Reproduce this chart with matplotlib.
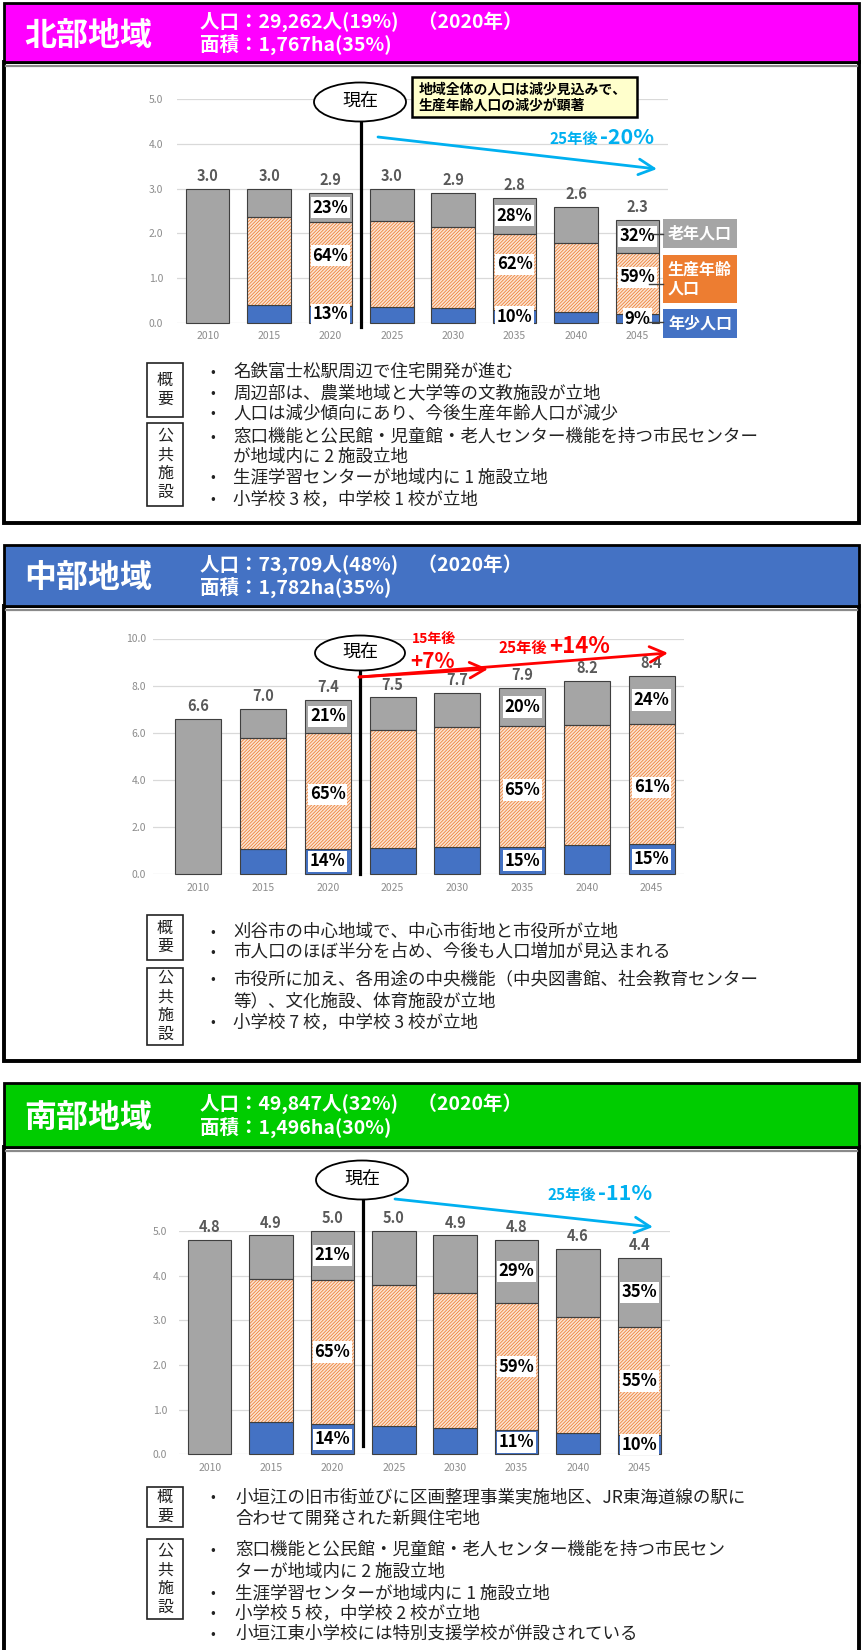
import numpy as np
import matplotlib
matplotlib.use("Agg")
import matplotlib.pyplot as plt
from matplotlib.patches import Rectangle, Ellipse

plt.rcParams['font.family'] = ['Noto Sans CJK JP', 'DejaVu Sans']
plt.rcParams['hatch.linewidth'] = 0.55

W, H = 863, 1650

years = ['2010', '2015', '2020', '2025', '2030', '2035', '2040', '2045']

# 北部地域（万人）
north_total = [3.0, 3.0, 2.9, 3.0, 2.9, 2.8, 2.6, 2.3]
north_young = [np.nan, 0.40, 0.38, 0.35, 0.33, 0.29, 0.24, 0.20]
north_working = [np.nan, 1.96, 1.87, 1.92, 1.81, 1.70, 1.54, 1.37]
north_pct_old = ['', '', '23%', '', '', '28%', '', '32%']
north_pct_working = ['', '', '64%', '', '', '62%', '', '59%']
north_pct_young = ['', '', '13%', '', '', '10%', '', '9%']

# 中部地域（万人）
central_total = [6.6, 7.0, 7.4, 7.5, 7.7, 7.9, 8.2, 8.4]
central_young = [np.nan, 1.06, 1.09, 1.10, 1.14, 1.17, 1.23, 1.28]
central_working = [np.nan, 4.73, 4.91, 5.02, 5.09, 5.13, 5.10, 5.11]
central_pct_old = ['', '', '21%', '', '', '20%', '', '24%']
central_pct_working = ['', '', '65%', '', '', '65%', '', '61%']
central_pct_young = ['', '', '14%', '', '', '15%', '', '15%']

# 南部地域（万人）
south_total = [4.8, 4.9, 5.0, 5.0, 4.9, 4.8, 4.6, 4.4]
south_young = [np.nan, 0.72, 0.67, 0.63, 0.58, 0.54, 0.48, 0.43]
south_working = [np.nan, 3.20, 3.24, 3.15, 3.04, 2.85, 2.60, 2.43]
south_pct_old = ['', '', '21%', '', '', '29%', '', '35%']
south_pct_working = ['', '', '65%', '', '', '59%', '', '55%']
south_pct_young = ['', '', '14%', '', '', '11%', '', '10%']

north_title = '北部地域'
north_info = ['人口：29,262人(19%)　（2020年）', '面積：1,767ha(35%)']
central_title = '中部地域'
central_info = ['人口：73,709人(48%)　（2020年）', '面積：1,782ha(35%)']
south_title = '南部地域'
south_info = ['人口：49,847人(32%)　（2020年）', '面積：1,496ha(30%)']

north_summary = ['名鉄富士松駅周辺で住宅開発が進む',
                 '周辺部は、農業地域と大学等の文教施設が立地',
                 '人口は減少傾向にあり、今後生産年齢人口が減少']
north_facility = ['窓口機能と公民館・児童館・老人センター機能を持つ市民センター\nが地域内に 2 施設立地',
                  '生涯学習センターが地域内に 1 施設立地',
                  '小学校 3 校，中学校 1 校が立地']
central_summary = ['刈谷市の中心地域で、中心市街地と市役所が立地',
                   '市人口のほぼ半分を占め、今後も人口増加が見込まれる']
central_facility = ['市役所に加え、各用途の中央機能（中央図書館、社会教育センター\n等）、文化施設、体育施設が立地',
                    '小学校 7 校，中学校 3 校が立地']
south_summary = ['小垣江の旧市街並びに区画整理事業実施地区、JR東海道線の駅に\n合わせて開発された新興住宅地']
south_facility = ['窓口機能と公民館・児童館・老人センター機能を持つ市民セン\nターが地域内に 2 施設立地',
                  '生涯学習センターが地域内に 1 施設立地',
                  '小学校 5 校，中学校 2 校が立地',
                  '小垣江東小学校には特別支援学校が併設されている']

legend_labels = ['老年人口', '生産年齢\n人口', '年少人口']

GRAY = '#a5a5a5'
ORANGE = '#ed7d31'
PEACH = '#fbe3d1'
BLUE = '#4472c4'
EDGE = '#3f3f3f'
SKY = '#00b0f0'
RED = '#ff0000'

fig = plt.figure(figsize=(W / 100, H / 100), dpi=100)

bg = fig.add_axes([0, 0, 1, 1])
bg.set_xlim(0, W)
bg.set_ylim(H, 0)
bg.axis('off')


def draw_frame(top, head_bottom, body_bottom, color, title, info):
    bg.add_patch(Rectangle((4, head_bottom), 855, body_bottom - head_bottom,
                           facecolor='white', edgecolor='black', lw=2.8, zorder=1))
    bg.add_patch(Rectangle((4, top), 855, head_bottom - top,
                           facecolor=color, edgecolor='black', lw=2.0, zorder=2))
    bg.plot([6, 857], [head_bottom + 3.5] * 2, color='#8a8a8a', lw=1.6, zorder=2)
    hc = (top + head_bottom) / 2
    bg.text(24, hc + 3, title, color='white', fontsize=23, fontweight='bold',
            ha='left', va='center', zorder=3)
    bg.text(200, hc - 11, info[0], color='white', fontsize=14, fontweight='bold',
            ha='left', va='center', zorder=3)
    bg.text(200, hc + 12, info[1], color='white', fontsize=14, fontweight='bold',
            ha='left', va='center', zorder=3)


def draw_notes(box_sum, box_fac, line_ys, summary, facility, bullet_x, text_x):
    for (y0, y1), label in ((box_sum, '概\n要'), (box_fac, '公\n共\n施\n設')):
        bg.add_patch(Rectangle((147, y0), 36, y1 - y0, facecolor='white',
                               edgecolor='#222222', lw=1.2, zorder=3))
        bg.text(165, (y0 + y1) / 2, label, fontsize=11.5, color='#222222',
                ha='center', va='center', linespacing=1.12, zorder=4)
    k = 0
    for item in summary + facility:
        for j, part in enumerate(item.split('\n')):
            y = line_ys[k]
            if j == 0:
                bg.text(bullet_x, y, '•', fontsize=10, color='#222222',
                        ha='center', va='center', zorder=4)
            bg.text(text_x, y, part, fontsize=12.6, color='#222222',
                    ha='left', va='center', zorder=4)
            k += 1


def draw_chart(rect, xlim, ylim, yticks, total, young, working,
               pct_old, pct_work, pct_young, work_frac, ypad, vline):
    left, right, top, bottom = rect
    ax = fig.add_axes([left / W, 1 - bottom / H, (right - left) / W, (bottom - top) / H])
    ax.patch.set_alpha(0)
    x = np.arange(len(years))
    total = np.asarray(total, float)
    young = np.asarray(young, float)
    working = np.asarray(working, float)
    has = ~np.isnan(young)
    y0 = np.nan_to_num(young)
    w0 = np.nan_to_num(working)
    old = total - y0 - w0
    bw = 0.71
    bars = []
    bars += list(ax.bar(x[has], young[has], bw, color=BLUE, edgecolor=EDGE, lw=0.8, zorder=2))
    bars += list(ax.bar(x[has], working[has], bw, bottom=young[has], color=PEACH,
                        edgecolor=ORANGE, hatch='//////////', lw=0, zorder=2))
    bars += list(ax.bar(x[has], working[has], bw, bottom=young[has], fill=False,
                        edgecolor=EDGE, lw=0.8, zorder=3))
    bars += list(ax.bar(x, old, bw, bottom=y0 + w0, color=GRAY, edgecolor=EDGE, lw=0.8, zorder=2))
    for b in bars:
        b.set_clip_on(False)

    for i in x:
        ax.annotate(f'{total[i]:.1f}', (i, total[i]), xytext=(0, 3.5),
                    textcoords='offset points', ha='center', va='bottom',
                    fontsize=10.5, fontweight='bold', color='#595959', zorder=5)
        box = dict(facecolor='white', edgecolor='none', pad=1.2)
        if pct_old[i]:
            ax.text(i, y0[i] + w0[i] + old[i] / 2, pct_old[i], ha='center', va='center',
                    fontsize=12, fontweight='bold', bbox=box, zorder=6)
        if pct_work[i]:
            ax.text(i, y0[i] + w0[i] * work_frac, pct_work[i], ha='center', va='center',
                    fontsize=12, fontweight='bold', bbox=box, zorder=6)
        if pct_young[i]:
            ax.text(i, y0[i] / 2, pct_young[i], ha='center', va='center',
                    fontsize=12, fontweight='bold', bbox=box, zorder=6)

    ax.plot([2.5, 2.5], vline, color='black', lw=2.3, clip_on=False, zorder=7)

    ax.set_xlim(*xlim)
    ax.set_ylim(*ylim)
    ax.set_xticks(x, years)
    ax.set_yticks(yticks, [f'{t:.1f}' for t in yticks])
    ax.tick_params(length=0, labelsize=7.5, labelcolor='#8c8c8c')
    ax.tick_params(axis='y', pad=ypad)
    ax.tick_params(axis='x', pad=6)
    ax.yaxis.grid(True, color='#d9d9d9', lw=0.9)
    ax.set_axisbelow(True)
    for s in ax.spines.values():
        s.set_visible(False)
    return ax


# panel frames and notes
draw_frame(3, 62, 523, '#ff00ff', north_title, north_info)
draw_frame(545, 606, 1061, BLUE, central_title, central_info)
draw_frame(1083, 1147, 1665, '#00cc00', south_title, south_info)

draw_notes((363, 417), (423, 506), [372, 393, 413, 437, 457, 477, 499],
           north_summary, north_facility, 213, 233)
draw_notes((915, 960), (968, 1045), [932, 952, 979, 1001, 1022],
           central_summary, central_facility, 213, 233)
draw_notes((1487, 1527), (1539, 1619), [1497, 1519, 1550, 1572, 1593, 1613, 1634],
           south_summary, south_facility, 213, 235)

# charts
draw_chart((177, 668, 99, 323), (-0.5, 7.5), (0, 5), np.arange(0, 5.01, 1.0),
           north_total, north_young, north_working,
           north_pct_old, north_pct_working, north_pct_young, 0.6, 10, (-0.09, 4.5))
draw_chart((153, 684, 638.5, 874.3), (-0.7, 7.5), (0, 10), np.arange(0, 10.01, 2.0),
           central_total, central_young, central_working,
           central_pct_old, central_pct_working, central_pct_young, 0.47, 5, (0, 8.64))
draw_chart((179, 670, 1231, 1454.3), (-0.5, 7.5), (0, 5), np.arange(0, 5.01, 1.0),
           south_total, south_young, south_working,
           south_pct_old, south_pct_working, south_pct_young, 0.5, 8.5, (0.18, 5.7))

# annotations layer (pixel coordinates)
ov = fig.add_axes([0, 0, 1, 1])
ov.set_xlim(0, W)
ov.set_ylim(H, 0)
ov.axis('off')
ov.patch.set_alpha(0)


def now_mark(cx, cy, w, h):
    ov.add_patch(Ellipse((cx, cy), w, h, facecolor='white', edgecolor='black', lw=1.3, zorder=8))
    ov.text(cx, cy, '現在', fontsize=13, ha='center', va='center', zorder=9)


def arrow(p0, p1, color):
    ov.annotate('', xy=p1, xytext=p0,
                arrowprops=dict(arrowstyle='->,head_length=0.55,head_width=0.28',
                                color=color, lw=2.0, mutation_scale=20,
                                shrinkA=0, shrinkB=0), zorder=8)


# 北部
now_mark(360, 102, 92, 39)
ov.add_patch(Rectangle((412, 77), 225, 40, facecolor='#ffffcc', edgecolor='black', lw=1.8, zorder=8))
ov.text(419, 97.5, '地域全体の人口は減少見込みで、\n生産年齢人口の減少が顕著', fontsize=10,
        fontweight='bold', ha='left', va='center', linespacing=1.2, zorder=9)
arrow((378, 137), (657, 169), SKY)
ov.text(598, 144, '25年後', color=SKY, fontsize=11, fontweight='bold', ha='right', va='baseline', zorder=9)
ov.text(600, 144, '-20%', color=SKY, fontsize=15.5, fontweight='bold', ha='left', va='baseline', zorder=9)

legend_colors = [GRAY, ORANGE, BLUE]
legend_boxes = [(219, 248), (255, 303), (309, 338)]
leader_y = [234, 284, 322]
for lab, col, (t, b), ly in zip(legend_labels, legend_colors, legend_boxes, leader_y):
    ov.add_patch(Rectangle((663, t), 74, b - t, facecolor=col, edgecolor='none', zorder=8))
    if '\n' in lab:
        ov.text(668, (t + b) / 2, lab, color='white', fontsize=11.5, fontweight='bold',
                ha='left', va='center', linespacing=1.2, zorder=9)
    else:
        ov.text(700, (t + b) / 2, lab, color='white', fontsize=11.5, fontweight='bold',
                ha='center', va='center', zorder=9)
    ov.plot([649, 663], [ly, ly], color='#404040', lw=1.0, zorder=9)

# 中部
now_mark(360, 653, 90, 35)
arrow((359, 677), (488, 669), RED)
arrow((359, 677), (668, 653), RED)
ov.text(434, 639, '15年後', color=RED, fontsize=10, fontweight='bold', ha='center', va='center', zorder=9)
ov.text(432, 661, '+7%', color=RED, fontsize=15, fontweight='bold', ha='center', va='center', zorder=9)
ov.text(547, 653, '25年後', color=RED, fontsize=11, fontweight='bold', ha='right', va='baseline', zorder=9)
ov.text(549, 653, '+14%', color=RED, fontsize=16, fontweight='bold', ha='left', va='baseline', zorder=9)

# 南部
now_mark(362, 1180, 92, 39)
arrow((395, 1199), (653, 1227), SKY)
ov.text(596, 1200, '25年後', color=SKY, fontsize=11, fontweight='bold', ha='right', va='baseline', zorder=9)
ov.text(598, 1200, '-11%', color=SKY, fontsize=15.5, fontweight='bold', ha='left', va='baseline', zorder=9)

fig.savefig('out.png', dpi=100)
